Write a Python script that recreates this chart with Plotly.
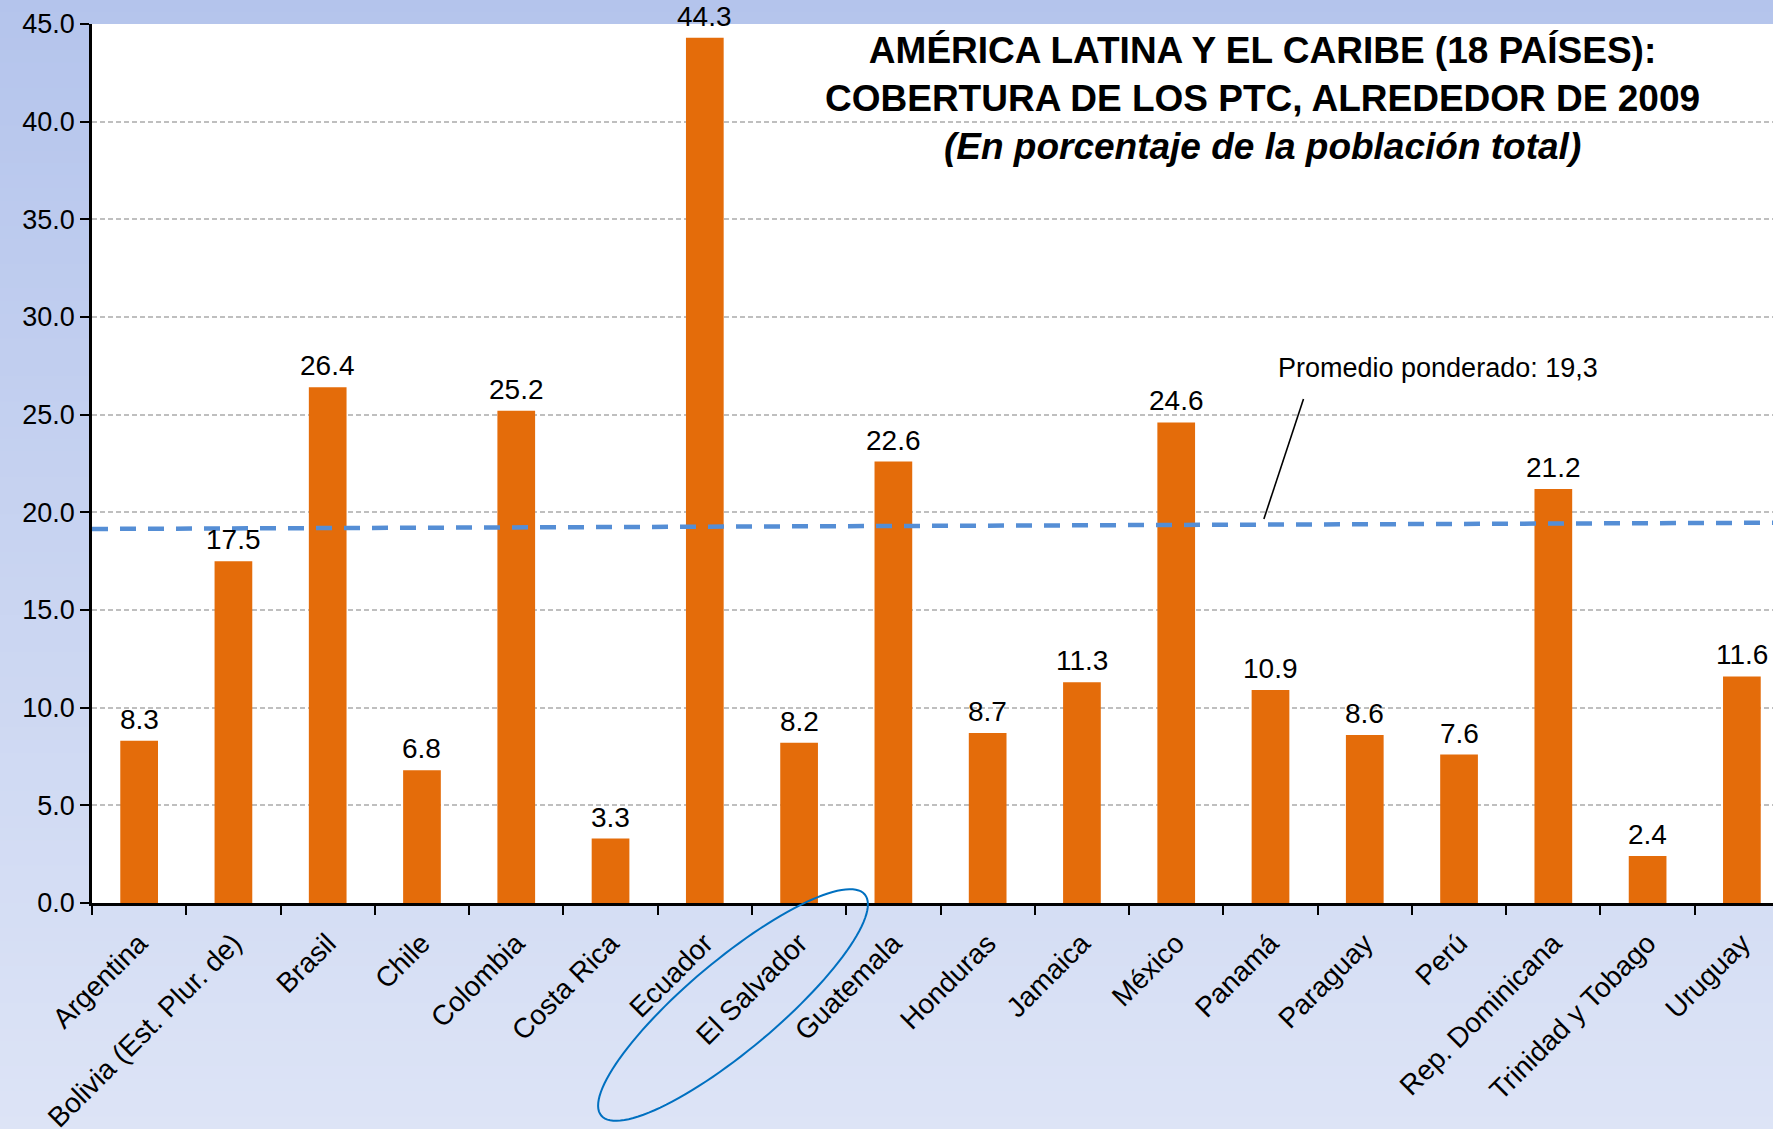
import plotly.graph_objects as go
import numpy as np

# ---------------- data ----------------
categories = ["Argentina", "Bolivia (Est. Plur. de)", "Brasil", "Chile", "Colombia",
              "Costa Rica", "Ecuador", "El Salvador", "Guatemala", "Honduras",
              "Jamaica", "México", "Panamá", "Paraguay", "Perú",
              "Rep. Dominicana", "Trinidad y Tobago", "Uruguay"]
coverage = [8.3, 17.5, 26.4, 6.8, 25.2, 3.3, 44.3, 8.2, 22.6, 8.7,
            11.3, 24.6, 10.9, 8.6, 7.6, 21.2, 2.4, 11.6]
y_tickvals = [0, 5, 10, 15, 20, 25, 30, 35, 40, 45]
avg_line_x = [-0.5, 17.5]
avg_line_y = [19.15, 19.47]
avg_label = "Promedio ponderado: 19,3"
avg_label_pos = [13.78, 27.4]
avg_pointer_x = [11.93, 12.35]
avg_pointer_y = [19.66, 25.8]
title_lines = ["AMÉRICA LATINA Y EL CARIBE (18 PAÍSES):",
               "COBERTURA DE LOS PTC, ALREDEDOR DE 2009",
               "(En porcentaje de la población total)"]

# ---------------- layout geometry ----------------
W, H = 1773, 1129
ML, MR, MT, MB = 92, 0, 24, 226
PW, PH = W - ML - MR, H - MT - MB
FONT = "Liberation Sans, Arial, sans-serif"


def to_paper(px, py):
    return (np.asarray(px) - ML) / PW, (H - MB - np.asarray(py)) / PH


fig = go.Figure()
fig.add_trace(go.Bar(
    x=categories, y=coverage, width=0.4,
    marker=dict(color="#E46C0A", line=dict(width=0)),
    hoverinfo="x+y",
))

shapes = []
# background gradient (top darker periwinkle -> lighter bottom)
n_strips = 90
top_c = np.array([180, 196, 236])
bot_c = np.array([221, 228, 246])
for i in range(n_strips):
    py0 = H * i / n_strips
    py1 = H * (i + 1) / n_strips + 1
    t = (i + 0.5) / n_strips
    c = top_c + (bot_c - top_c) * t
    x0, y0 = to_paper(0, py1)
    x1, y1 = to_paper(W, py0)
    shapes.append(dict(type="rect", xref="paper", yref="paper", layer="below",
                       x0=float(x0), x1=float(x1), y0=float(y0), y1=float(y1),
                       line=dict(width=0),
                       fillcolor="rgb(%d,%d,%d)" % tuple(int(round(v)) for v in c)))
# white plot area
shapes.append(dict(type="rect", xref="paper", yref="paper", layer="below",
                   x0=0, x1=1, y0=0, y1=1, line=dict(width=0), fillcolor="white"))
# weighted average dashed line
shapes.append(dict(type="line", xref="x", yref="y", layer="above",
                   x0=avg_line_x[0], x1=avg_line_x[1], y0=avg_line_y[0], y1=avg_line_y[1],
                   line=dict(color="#558ED5", width=4.5, dash="16px,12px")))
# pointer line for the average label
shapes.append(dict(type="line", xref="x", yref="y", layer="above",
                   x0=avg_pointer_x[0], x1=avg_pointer_x[1],
                   y0=avg_pointer_y[0], y1=avg_pointer_y[1],
                   line=dict(color="black", width=1.6)))
# ellipse around El Salvador label
cx, cy, a, b, th = 733, 1005, 172, 45, np.radians(40)
t = np.linspace(0, 2 * np.pi, 121)
ex = cx + a * np.cos(t) * np.cos(th) + b * np.sin(t) * np.sin(th)
ey = cy - a * np.cos(t) * np.sin(th) + b * np.sin(t) * np.cos(th)
exp_, eyp = to_paper(ex, ey)
path = "M " + " L ".join("%.5f,%.5f" % (u, v) for u, v in zip(exp_, eyp)) + " Z"
shapes.append(dict(type="path", xref="paper", yref="paper", layer="above",
                   path=path, line=dict(color="#0070C0", width=2)))

annotations = []
for cat, val in zip(categories, coverage):
    annotations.append(dict(x=cat, y=val, xref="x", yref="y", text="%.1f" % val,
                            showarrow=False, yanchor="bottom", yshift=4,
                            font=dict(family=FONT, size=28, color="black")))
annotations.append(dict(x=avg_label_pos[0], y=avg_label_pos[1], xref="x", yref="y",
                        text=avg_label, showarrow=False,
                        font=dict(family=FONT, size=27, color="black")))
tx, ty = to_paper(1262, 98)
annotations.append(dict(x=float(tx), y=float(ty), xref="paper", yref="paper",
                        text="<b>%s</b><br><b>%s</b><br><b><i>%s</i></b>" % tuple(title_lines),
                        showarrow=False, xanchor="center", yanchor="middle",
                        font=dict(family=FONT, size=37, color="black")))

fig.update_layout(
    width=W, height=H,
    margin=dict(l=ML, r=MR, t=MT, b=MB, pad=0, autoexpand=False),
    paper_bgcolor="#DCE3F6", plot_bgcolor="rgba(0,0,0,0)",
    showlegend=False, bargap=0.6,
    shapes=shapes, annotations=annotations,
    font=dict(family=FONT, color="black"),
)
fig.update_xaxes(
    type="category", range=[-0.5, 17.33], automargin=False,
    showline=True, linecolor="black", linewidth=2.5,
    ticks="outside", ticklen=9, tickwidth=2, tickcolor="black",
    tickson="boundaries", tickangle=-45, ticklabelstandoff=10,
    tickfont=dict(family=FONT, size=28, color="black"),
    showgrid=False,
)
fig.update_yaxes(
    range=[0, 45], tickvals=y_tickvals, tickformat=".1f", automargin=False,
    showline=True, linecolor="black", linewidth=2.5,
    ticks="outside", ticklen=9, tickwidth=2, tickcolor="black",
    tickfont=dict(family=FONT, size=27, color="black"),
    showgrid=True, gridcolor="#BFBFBF", gridwidth=1.5, griddash="5px,3px",
    zeroline=False,
)

fig.write_html("out.html", config={"displayModeBar": False},
               post_script="document.body.style.margin='0px';")
